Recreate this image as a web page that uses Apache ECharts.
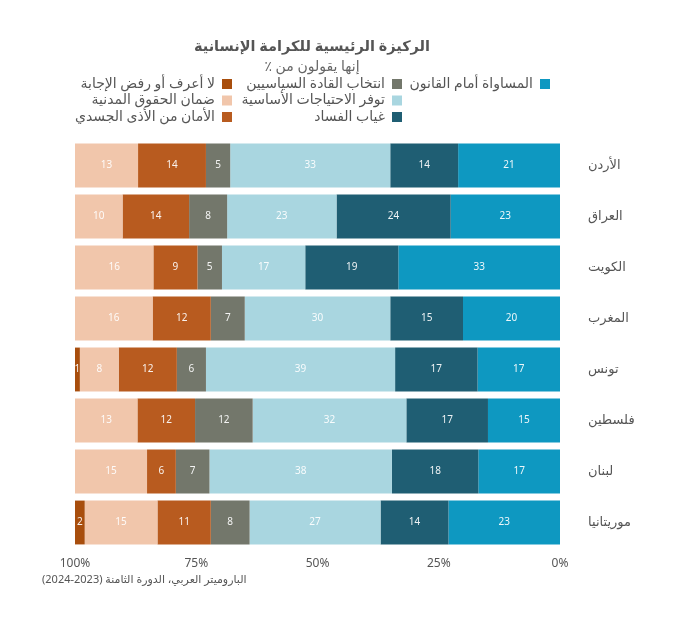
<!DOCTYPE html>
<html lang="ar">
<head>
    <meta charset="UTF-8">
    <title>الركيزة الرئيسية للكرامة الإنسانية</title>
    <script src="https://cdn.jsdelivr.net/npm/echarts@6/dist/echarts.min.js"></script>
    <style>
        html, body { margin: 0; padding: 0; background: #fff; }
        #main { width: 680px; height: 628px; }
    </style>
</head>
<body>
    <div id="main" dir="ltr"></div>

    <script>
        // البيانات
        const countries = ['الأردن', 'العراق', 'الكويت', 'المغرب', 'تونس', 'فلسطين', 'لبنان', 'موريتانيا'];
        const equality    = [21, 23, 33, 20, 17, 15, 17, 23];
        const corruption  = [14, 24, 19, 15, 17, 17, 18, 14];
        const basicNeeds  = [33, 23, 17, 30, 39, 32, 38, 27];
        const elections   = [5, 8, 5, 7, 6, 12, 7, 8];
        const safety      = [14, 14, 9, 12, 12, 12, 6, 11];
        const civilRights = [13, 10, 16, 16, 8, 13, 15, 15];
        const dontKnow    = [0, 0, 0, 0, 1, 0, 0, 2];
        const xTicks = [0, 25, 50, 75, 100];

        const seriesDefs = [
            { name: 'المساواة أمام القانون', values: equality, color: '#0e98c1' },
            { name: 'غياب الفساد', values: corruption, color: '#1f5e73' },
            { name: 'توفر الاحتياجات الأساسية', values: basicNeeds, color: '#a9d6e0' },
            { name: 'انتخاب القادة السياسيين', values: elections, color: '#73776b' },
            { name: 'الأمان من الأذى الجسدي', values: safety, color: '#b85b1f' },
            { name: 'ضمان الحقوق المدنية', values: civilRights, color: '#f1c6ab' },
            { name: 'لا أعرف أو رفض الإجابة', values: dontKnow, color: '#a84e0d' }
        ];

        // مجموع كل صف (الأرقام مقربة، لذلك نعيد التوزيع إلى 100)
        const rowTotals = countries.map((c, i) =>
            seriesDefs.reduce((s, d) => s + d.values[i], 0));

        const FONT = '"Noto Sans", "DejaVu Sans", sans-serif';

        const series = seriesDefs.map(d => ({
            name: d.name,
            type: 'bar',
            stack: 'total',
            barWidth: '86%',
            itemStyle: { color: d.color },
            label: {
                show: true,
                position: 'inside',
                color: 'rgba(255,255,255,0.92)',
                fontSize: 10,
                fontFamily: FONT,
                formatter: p => d.values[p.dataIndex] > 0 ? String(d.values[p.dataIndex]) : ''
            },
            emphasis: { disabled: true },
            data: d.values.map((v, i) => v * 100 / rowTotals[i])
        }));

        const legendBase = {
            orient: 'vertical',
            align: 'right',
            top: 72,
            itemWidth: 10,
            itemHeight: 10,
            itemGap: 2.5,
            selectedMode: false,
            icon: 'rect',
            textStyle: { color: '#555', fontSize: 14, fontFamily: FONT, lineHeight: 13, padding: [0, 2, 0, 0] }
        };

        const option = {
            animation: false,
            textStyle: { fontFamily: FONT },
            legend: [
                Object.assign({}, legendBase, { right: 125, data: [seriesDefs[0].name] }),
                Object.assign({}, legendBase, { right: 273, data: [seriesDefs[3].name, seriesDefs[2].name, seriesDefs[1].name] }),
                Object.assign({}, legendBase, { right: 443, data: [seriesDefs[6].name, seriesDefs[5].name, seriesDefs[4].name] })
            ],
            grid: { left: 75, right: 120, top: 140, bottom: 80 },
            xAxis: {
                type: 'value',
                inverse: true,
                min: xTicks[0],
                max: xTicks[xTicks.length - 1],
                interval: 25,
                splitLine: { show: false },
                axisLine: { show: false },
                axisTick: { show: false },
                axisLabel: {
                    color: '#555',
                    fontSize: 12,
                    margin: 10,
                    formatter: v => v + '%'
                }
            },
            yAxis: {
                type: 'category',
                inverse: true,
                position: 'right',
                data: countries,
                axisLine: { show: false },
                axisTick: { show: false },
                axisLabel: {
                    color: '#555',
                    fontSize: 13,
                    align: 'left',
                    margin: 28
                }
            },
            graphic: [
                {
                    type: 'text',
                    style: {
                        x: 312, y: 47,
                        text: 'الركيزة الرئيسية للكرامة الإنسانية',
                        textAlign: 'center', textVerticalAlign: 'middle',
                        font: 'bold 14.5px ' + FONT,
                        fill: '#555'
                    }
                },
                {
                    // كل جزء يُرسم على حدة حتى يبقى الترتيب كما في الأصل
                    type: 'text',
                    style: {
                        x: 312, y: 67,
                        text: '{p|٪} {t|إنها يقولون من}',
                        textAlign: 'center', textVerticalAlign: 'middle',
                        font: '14px ' + FONT,
                        fill: '#666',
                        rich: {
                            p: { fontSize: 14, fontFamily: FONT, fill: '#666' },
                            t: { fontSize: 14, fontFamily: FONT, fill: '#666' }
                        }
                    }
                },
                {
                    type: 'text',
                    style: {
                        x: 42, y: 580,
                        text: '{n|(2024-2023)} {t|الباروميتر العربي، الدورة الثامنة}',
                        textAlign: 'left', textVerticalAlign: 'middle',
                        font: '11px ' + FONT,
                        fill: '#555',
                        rich: {
                            n: { fontSize: 11, fontFamily: FONT, fill: '#555' },
                            t: { fontSize: 11, fontFamily: FONT, fill: '#555' }
                        }
                    }
                }
            ],
            series: series
        };

        const chart = echarts.init(document.getElementById('main'));
        chart.setOption(option);
    </script>
</body>
</html>
